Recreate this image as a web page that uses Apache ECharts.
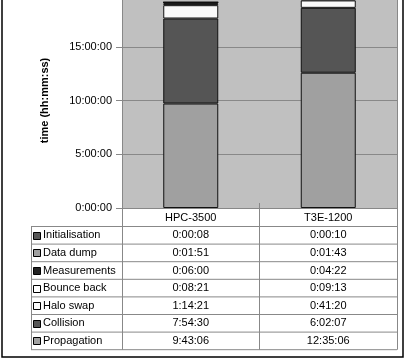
<!DOCTYPE html>
<html>
<head>
<meta charset="utf-8">
<script src="https://cdn.jsdelivr.net/npm/echarts@6/dist/echarts.min.js"></script>
<style>
  html, body { margin: 0; padding: 0; background: #fff; }
  #chart { width: 405px; height: 359px; }
</style>
</head>
<body>
<div id="chart"></div>
<script>
// machines on the x-axis
const categories = ['HPC-3500', 'T3E-1200']
// stacked from the bottom up
const seriesNames = ['Propagation', 'Collision', 'Halo swap', 'Bounce back', 'Measurements', 'Data dump', 'Initialisation']
const hpcTimes = ['9:43:06', '7:54:30', '1:14:21', '0:08:21', '0:06:00', '0:01:51', '0:00:08']
const t3eTimes = ['12:35:06', '6:02:07', '0:41:20', '0:09:13', '0:04:22', '0:01:43', '0:00:10']
const seriesColors = ['#a0a0a0', '#555555', '#fafafa', '#ffffff', '#222222', '#a0a0a0', '#555555']
const yMax = 72000
const yInterval = 18000

function toSeconds(s) {
  const p = s.split(':').map(Number)
  return p[0] * 3600 + p[1] * 60 + p[2]
}
function fmt(sec) {
  const h = Math.floor(sec / 3600)
  const m = Math.floor((sec % 3600) / 60)
  const s = sec % 60
  return h + ':' + String(m).padStart(2, '0') + ':' + String(s).padStart(2, '0')
}

// plot geometry (px); the plot top sits just above the canvas, as in the source
const PLOT_L = 122, PLOT_R = 397, PLOT_T = -7, PLOT_B = 208
const TABLE_L = 31, HEADER_B = 226.5, ROW_H = 17.6
const COL_MID = (PLOT_L + PLOT_R) / 2
const FONT = 'Liberation Sans, Arial, sans-serif'
const LINE = '#888'

const series = seriesNames.map(function (name, i) {
  return {
    name: name,
    type: 'bar',
    stack: 'total',
    barWidth: '40%',
    data: [toSeconds(hpcTimes[i]), toSeconds(t3eTimes[i])],
    itemStyle: { color: seriesColors[i], borderColor: '#111', borderWidth: 1 },
    emphasis: { disabled: true }
  }
})

// data table under the plot
const graphics = []
function hline(y, x1, x2) {
  graphics.push({ type: 'line', silent: true, shape: { x1: x1, y1: y, x2: x2, y2: y }, style: { stroke: LINE, lineWidth: 1 } })
}
function vline(x, y1, y2) {
  graphics.push({ type: 'line', silent: true, shape: { x1: x, y1: y1, x2: x, y2: y2 }, style: { stroke: LINE, lineWidth: 1 } })
}
const tableRows = seriesNames.slice().reverse()
const tableHpc = hpcTimes.slice().reverse()
const tableT3e = t3eTimes.slice().reverse()
const tableColors = seriesColors.slice().reverse()
const tableBottom = HEADER_B + ROW_H * tableRows.length
for (let r = 0; r <= tableRows.length; r++) hline(HEADER_B + r * ROW_H, TABLE_L, PLOT_R)
vline(TABLE_L + 0.5, HEADER_B, tableBottom)
vline(PLOT_L + 0.5, PLOT_B, tableBottom)
vline(COL_MID, PLOT_B - 5, tableBottom)
vline(PLOT_R + 0.5, PLOT_T, tableBottom)
tableRows.forEach(function (name, r) {
  const cy = HEADER_B + r * ROW_H + ROW_H / 2
  graphics.push({
    type: 'rect', silent: true,
    shape: { x: TABLE_L + 2.5, y: Math.round(cy - 3.5) + 0.5, width: 7, height: 7 },
    style: { fill: tableColors[r], stroke: '#000', lineWidth: 1 }
  })
  graphics.push({
    type: 'text', silent: true, x: TABLE_L + 12, y: cy,
    style: { text: name, font: '11px ' + FONT, fill: '#000', verticalAlign: 'middle', textAlign: 'left' }
  })
  graphics.push({
    type: 'text', silent: true, x: (PLOT_L + COL_MID) / 2, y: cy,
    style: { text: tableHpc[r], font: '11px ' + FONT, fill: '#000', verticalAlign: 'middle', textAlign: 'center' }
  })
  graphics.push({
    type: 'text', silent: true, x: (COL_MID + PLOT_R) / 2, y: cy,
    style: { text: tableT3e[r], font: '11px ' + FONT, fill: '#000', verticalAlign: 'middle', textAlign: 'center' }
  })
})
// outer chart border
graphics.push({
  type: 'rect', silent: true,
  shape: { x: 2, y: -20, width: 401, height: 377 },
  style: { fill: 'none', stroke: '#000', lineWidth: 1.5 }
})

const chart = echarts.init(document.getElementById('chart'))
chart.setOption({
  backgroundColor: '#ffffff',
  animation: false,
  textStyle: { fontFamily: FONT },
  grid: {
    left: PLOT_L, right: 405 - PLOT_R, top: PLOT_T, bottom: 359 - PLOT_B,
    outerBoundsMode: 'none',
    containLabel: false,
    show: true, backgroundColor: '#c0c0c0', borderWidth: 0
  },
  xAxis: {
    type: 'category',
    data: categories,
    axisLine: { lineStyle: { color: LINE, width: 1 } },
    axisTick: { show: false },
    axisLabel: { fontSize: 11, color: '#000', margin: 4 },
    splitLine: { show: false }
  },
  yAxis: {
    type: 'value',
    min: 0, max: yMax, interval: yInterval,
    name: 'time (hh:mm:ss)',
    nameLocation: 'middle',
    nameGap: 72,
    nameTextStyle: { fontSize: 11, fontWeight: 'bold', color: '#000' },
    axisLine: { show: true, lineStyle: { color: LINE, width: 1 } },
    axisTick: { show: true, length: 6, lineStyle: { color: LINE } },
    axisLabel: { fontSize: 11, color: '#000', margin: 10, formatter: function (v) { return fmt(v) } },
    splitLine: { show: true, lineStyle: { color: LINE, width: 1 } }
  },
  series: series,
  graphic: graphics
})
</script>
</body>
</html>
